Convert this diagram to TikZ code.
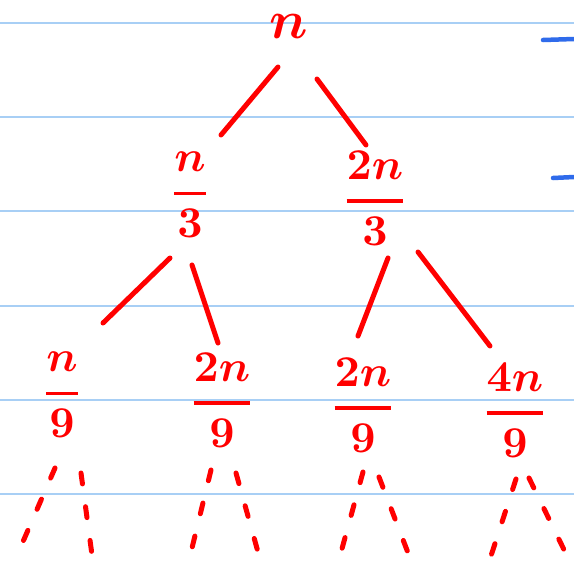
\documentclass[tikz,border=0pt]{standalone}
\usepackage{amsmath}
\usepackage{graphicx}
\usepackage{tikz}
\usetikzlibrary{positioning}

\definecolor{inkred}{HTML}{FF0000}
\definecolor{paperblue}{HTML}{A8CFF5}
\definecolor{penblue}{HTML}{2F6BEB}
\newcommand{\inkfrac}[2]{\scalebox{4.4}{\boldmath$\genfrac{}{}{0.8pt}{0}{#1}{#2}$}}

\begin{document}
\begin{tikzpicture}[
  x=1pt, y=-1pt,
  term/.style={text=inkred, inner sep=0pt},
  edge/.style={draw=inkred, line width=5pt, line cap=round},
  trail/.style={edge, dash pattern=on 11pt off 23pt},
  ruled/.style={draw=paperblue, line width=1.4pt},
  margin/.style={draw=penblue, line width=4.5pt, line cap=round},
]
\fill[white] (0,0) rectangle (574,568);
\useasboundingbox (0,0) rectangle (574,568);

% lined paper
\foreach \y in {23,117,211,306,400,494}
  \draw[ruled] (0,\y) -- (574,\y);
\draw[margin] (543,40) -- (574,39);
\draw[margin] (553,178) -- (574,177);

% tree
\node[term] (root) at (289,26) {\scalebox{5.4}{\boldmath$n$}};
\node[term] (third) at (190,195) {\inkfrac{n}{3}};
\node[term] (twothird) at (375,198) {\inkfrac{2n}{3}};
\node[term] (ninth) at (62,395) {\inkfrac{n}{9}};
\node[term] (twoninthL) at (222,400) {\inkfrac{2n}{9}};
\node[term] (twoninthR) at (363,405) {\inkfrac{2n}{9}};
\node[term] (fourninth) at (515,410) {\inkfrac{4n}{9}};

\draw[edge] ([shift={(-11,41)}]root.center) -- ([shift={(31,-60)}]third.center);
\draw[edge] ([shift={(28,53)}]root.center) -- ([shift={(-9,-53)}]twothird.center);

\draw[edge] ([shift={(-20,63)}]third.center) -- ([shift={(41,-72)}]ninth.center);
\draw[edge] ([shift={(2,70)}]third.center) -- ([shift={(-4,-57)}]twoninthL.center);
\draw[edge] ([shift={(13,60)}]twothird.center) -- ([shift={(-5,-69)}]twoninthR.center);
\draw[edge] ([shift={(43,54)}]twothird.center) -- ([shift={(-25,-64)}]fourninth.center);

% dashed continuations
\coordinate (ninth-l) at (15,560);
\coordinate (ninth-r) at (92,555);
\coordinate (twoninthL-l) at (192,548);
\coordinate (twoninthL-r) at (258,552);
\coordinate (twoninthR-l) at (340,556);
\coordinate (twoninthR-r) at (410,558);
\coordinate (fourninth-l) at (489,562);
\coordinate (fourninth-r) at (570,562);

\draw[trail] ([shift={(-7,73)}]ninth.center) -- (ninth-l);
\draw[trail] ([shift={(19,78)}]ninth.center) -- (ninth-r);
\draw[trail] ([shift={(-11,70)}]twoninthL.center) -- (twoninthL-l);
\draw[trail] ([shift={(14,73)}]twoninthL.center) -- (twoninthL-r);
\draw[trail] ([shift={(0,67)}]twoninthR.center) -- (twoninthR-l);
\draw[trail] ([shift={(16,72)}]twoninthR.center) -- (twoninthR-r);
\draw[trail] ([shift={(1,69)}]fourninth.center) -- (fourninth-l);
\draw[trail] ([shift={(14,68)}]fourninth.center) -- (fourninth-r);
\end{tikzpicture}
\end{document}
